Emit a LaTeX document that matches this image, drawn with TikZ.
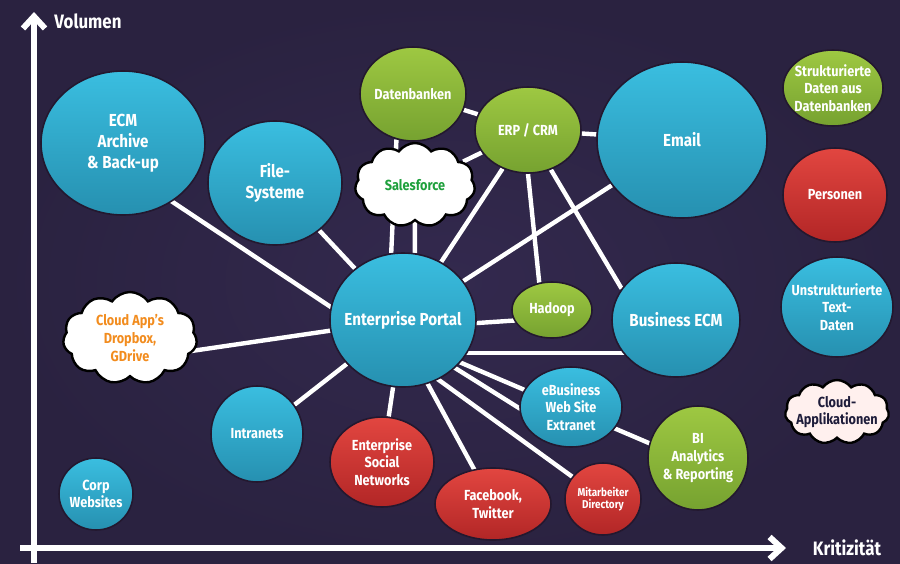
\documentclass[tikz,border=0pt]{standalone}
\usepackage{fontspec}
\setmainfont{Fira Sans}[FakeStretch=0.87]
\usepackage{tikz}
\usetikzlibrary{arrows.meta,shapes.geometric,shapes.symbols}
\definecolor{bgmid}{RGB}{51,41,78}
\definecolor{bgout}{RGB}{42,34,64}
\definecolor{bubline}{RGB}{35,24,47}
\definecolor{bluetop}{RGB}{58,190,224}
\definecolor{bluebot}{RGB}{38,144,176}
\definecolor{greentop}{RGB}{158,200,66}
\definecolor{greenbot}{RGB}{118,162,48}
\definecolor{redtop}{RGB}{226,70,64}
\definecolor{redbot}{RGB}{178,38,38}
\definecolor{sfgreen}{RGB}{30,160,60}
\definecolor{caorange}{RGB}{242,140,30}
\definecolor{navytxt}{RGB}{30,28,58}
\definecolor{pinkfill}{RGB}{255,240,238}
\pgfdeclarelayer{back}
\pgfdeclarelayer{edges}
\pgfsetlayers{back,edges,main}
\tikzset{
  bub/.style={ellipse, draw=bubline, line width=0.8pt, inner sep=0pt},
  ell/.style 2 args={minimum width=#1pt, minimum height=#2pt},
  blueb/.style={bub, top color=bluetop, bottom color=bluebot},
  greenb/.style={bub, top color=greentop, bottom color=greenbot},
  redb/.style={bub, top color=redtop, bottom color=redbot},
  cl/.style={cloud, cloud puffs=11, cloud puff arc=110, cloud ignores aspect,
    draw=black, line width=1.2pt, fill=white, inner sep=0pt},
  big/.style={text=white, align=center, font=\bfseries\fontsize{8.7}{10.5}\selectfont},
  med/.style={text=white, align=center, font=\bfseries\fontsize{7.3}{8.8}\selectfont},
  tinytxt/.style={text=white, align=center, font=\bfseries\fontsize{5.7}{6.2}\selectfont},
  axtxt/.style={text=white, font=\bfseries\fontsize{9.7}{11}\selectfont},
  link/.style={white, line width=2.2pt},
}

\begin{document}
\begin{tikzpicture}[x=0.5pt, y=-0.5pt]
\useasboundingbox (0,0) rectangle (900,563);
\begin{pgfonlayer}{back}
\shade[inner color=bgmid, outer color=bgout] (0,0) rectangle (900,563);
\end{pgfonlayer}

%%%%% Axis %%%%%
\draw[white, line width=3pt, -{Straight Barb[length=6pt,width=11pt]}] (34,563) -- (34,12);
\draw[white, line width=3pt, -{Straight Barb[length=6pt,width=11pt]}] (20,548) -- (786,548);
\node[axtxt] (vol) at (88,21) {Volumen};
\node[axtxt] (krit) at (847,548) {Kritizität};

%%%%% Bubbles %%%%%
\node[blueb, ell={82}{72}, label={[big]center:ECM\\Archive\\\& Back-up}] (ecm) at (123,143) {};
\node[blueb, ell={67}{62}, label={[big]center:File-\\Systeme}] (files) at (275,183) {};
\node[greenb, ell={53}{47}, label={[med]center:Datenbanken}] (datb) at (413,94) {};
\node[greenb, ell={53}{43}, label={[med]center:ERP / CRM}] (erp) at (528,130) {};
\node[cl, ell={60}{42}, label={[med, text=sfgreen]center:Salesforce}] (sf) at (415,185) {};
\node[blueb, ell={85}{78}, label={[big]center:Email}] (email) at (682,140) {};
\node[blueb, ell={73}{67}, label={[big]center:Enterprise Portal}] (portal) at (403,320) {};
\node[greenb, ell={40}{28}, label={[med]center:Hadoop}] (hadoop) at (552,310) {};
\node[blueb, ell={64}{57}, label={[big]center:Business ECM}] (becm) at (676,320) {};
\node[cl, ell={67}{46}, label={[med, text=caorange]center:{Cloud App's\\Dropbox,\\GDrive}}] (capp) at (130,338) {};
\node[blueb, ell={46}{48}, label={[med]center:Intranets}] (intra) at (257,434) {};
\node[blueb, ell={37}{36}, label={[med]center:Corp\\Websites}] (corp) at (96,494) {};
\node[redb, ell={52}{45}, label={[med]center:Enterprise\\Social\\Networks}] (esn) at (382,462) {};
\node[redb, ell={58}{36}, label={[med]center:{Facebook,\\Twitter}}] (fb) at (493,504) {};
\node[redb, ell={38}{36}, label={[tinytxt]center:Mitarbeiter\\Directory}] (mitarb) at (603,499) {};
\node[blueb, ell={51}{40}, label={[med]center:eBusiness\\Web Site\\Extranet}] (ebiz) at (571,407) {};
\node[greenb, ell={50}{52}, label={[med]center:BI\\Analytics\\\& Reporting}] (bi) at (698,458) {};

%%%%% Legend %%%%%
\node[greenb, ell={50}{38}, label={[med]center:Strukturierte\\Daten aus\\Datenbanken}] (lstruct) at (833,88) {};
\node[redb, ell={52}{47}, label={[med]center:Personen}] (lpers) at (835,195) {};
\node[blueb, ell={56}{50}, label={[med]center:Unstrukturierte\\Text-\\Daten}] (lunstr) at (837,307) {};
\node[cl, fill=pinkfill, ell={52}{32}, label={[med, text=navytxt]center:Cloud-\\Applikationen}] (lcloud) at (837,412) {};

%%%%% Links %%%%%
\begin{pgfonlayer}{edges}
\draw[link] ([yshift=-13pt]ecm.center) -- ([yshift=-17.5pt]portal.center);
\draw[link] (files) -- (portal);
\draw[link] (datb.250) -- (portal.100);
\draw[link] (sf.center) -- (portal.80);
\draw[link] (datb) -- (erp);
\draw[link] (sf) -- (erp);
\draw[link] (erp) -- (email);
\draw[link] (erp) -- (portal);
\draw[link] (erp.south) -- (hadoop.115);
\draw[link] (erp.300) -- (becm.150);
\draw[link] (email) -- (portal);
\draw[link] ([yshift=-4pt]portal.center) -- ([yshift=-4pt]hadoop.center);
\draw[link] ([yshift=-16.5pt]portal.center) -- ([yshift=-16.5pt]becm.center);
\draw[link] ([yshift=-11pt]capp.center) -- (portal.center);
\draw[link] (intra) -- (portal);
\draw[link] (esn) -- (portal);
\draw[link] ([xshift=-5pt]portal.center) -- (fb.center);
\draw[link] ([yshift=-17pt]portal.center) -- (mitarb.center);
\draw[link] ([yshift=-7.7pt]portal.center) -- ([yshift=-16.8pt]ebiz.center);
\draw[link] ([yshift=-9pt]portal.center) -- ([yshift=-3pt]bi.center);
\end{pgfonlayer}
\end{tikzpicture}
\end{document}
